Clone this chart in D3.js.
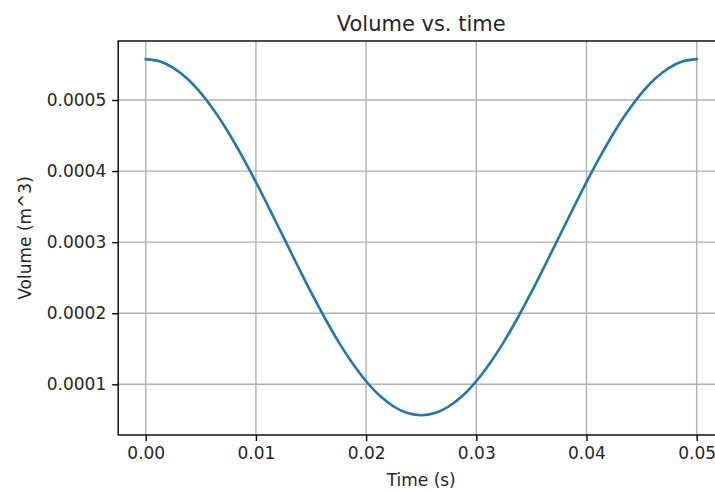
<!DOCTYPE html>
<html>
<head>
<meta charset="utf-8">
<script src="https://cdn.jsdelivr.net/npm/d3@7"></script>
<style>
  html, body { margin: 0; padding: 0; background: #fff; }
  svg { display: block; font-family: "DejaVu Sans", sans-serif; }
</style>
</head>
<body>
<svg id="chart" width="715" height="491"></svg>
<script>
// ---- data ----
const times = [
  0.0000, 0.00125, 0.0025, 0.00375, 0.0050, 0.00625, 0.0075, 0.00875, 0.0100, 0.01125,
  0.0125, 0.01375, 0.0150, 0.01625, 0.0175, 0.01875, 0.0200, 0.02125, 0.0225, 0.02375,
  0.0250, 0.02625, 0.0275, 0.02875, 0.0300, 0.03125, 0.0325, 0.03375, 0.0350, 0.03625,
  0.0375, 0.03875, 0.0400, 0.04125, 0.0425, 0.04375, 0.0450, 0.04625, 0.0475, 0.04875,
  0.0500
];
const volumes = [
  0.0005575, 0.0005545, 0.0005452, 0.0005302, 0.0005097, 0.0004841, 0.0004543, 0.0004207, 0.0003844, 0.0003461,
  0.0003070, 0.0002679, 0.0002296, 0.0001933, 0.0001597, 0.0001299, 0.0001043, 0.0000838, 0.0000688, 0.0000595,
  0.0000565, 0.0000595, 0.0000688, 0.0000838, 0.0001043, 0.0001299, 0.0001597, 0.0001933, 0.0002296, 0.0002679,
  0.0003070, 0.0003461, 0.0003844, 0.0004207, 0.0004543, 0.0004841, 0.0005097, 0.0005302, 0.0005452, 0.0005545,
  0.0005575
];
const xTicks = [0.00, 0.01, 0.02, 0.03, 0.04, 0.05];
const yTicks = [0.0001, 0.0002, 0.0003, 0.0004, 0.0005];
const xLimits = [-0.0025, 0.0525];
const yLimits = [0.0000287, 0.000583];
const titleText = "Volume vs. time";
const xLabel = "Time (s)";
const yLabel = "Volume (m^3)";

// ---- layout ----
const plot = { left: 118.2, right: 724.2, top: 41, bottom: 435 };
const svg = d3.select("#chart");

const x = d3.scaleLinear().domain(xLimits).range([plot.left, plot.right]);
const y = d3.scaleLinear().domain(yLimits).range([plot.bottom, plot.top]);

// grid
const grid = svg.append("g");
grid.selectAll("line.gx").data(xTicks).enter().append("line")
  .attr("x1", d => x(d)).attr("x2", d => x(d))
  .attr("y1", plot.top).attr("y2", plot.bottom)
  .attr("stroke", "#b0b0b0").attr("stroke-width", 1.4);
grid.selectAll("line.gy").data(yTicks).enter().append("line")
  .attr("x1", plot.left).attr("x2", plot.right)
  .attr("y1", d => y(d)).attr("y2", d => y(d))
  .attr("stroke", "#b0b0b0").attr("stroke-width", 1.4);

// line
const data = times.map((t, i) => ({ t, v: volumes[i] }));
const line = d3.line().x(d => x(d.t)).y(d => y(d.v)).curve(d3.curveCatmullRom);
svg.append("path").datum(data)
  .attr("d", line)
  .attr("fill", "none")
  .attr("stroke", "#1f77b4")
  .attr("stroke-width", 2.6)
  .attr("stroke-linecap", "square");

// axes
const xAxis = d3.axisBottom(x).tickValues(xTicks).tickFormat(d3.format(".2f"))
  .tickSize(6).tickPadding(6).tickSizeOuter(0);
const yAxis = d3.axisLeft(y).tickValues(yTicks).tickFormat(d3.format(".4f"))
  .tickSize(6).tickPadding(6).tickSizeOuter(0);

const gx = svg.append("g").attr("transform", `translate(0,${plot.bottom})`).call(xAxis);
const gy = svg.append("g").attr("transform", `translate(${plot.left},0)`).call(yAxis);
[gx, gy].forEach(g => {
  g.select(".domain").remove();
  g.selectAll(".tick line").attr("stroke", "#000").attr("stroke-width", 1.4);
  g.selectAll(".tick text").attr("fill", "#262626")
    .style("font-family", "'DejaVu Sans', sans-serif").style("font-size", "17px");
});

// spines
const spines = svg.append("g").attr("fill", "none").attr("stroke", "#000").attr("stroke-width", 1.4);
spines.append("rect")
  .attr("x", plot.left).attr("y", plot.top)
  .attr("width", plot.right - plot.left).attr("height", plot.bottom - plot.top);

// labels
svg.append("text")
  .attr("x", (plot.left + plot.right) / 2).attr("y", 31)
  .attr("text-anchor", "middle").attr("fill", "#262626")
  .style("font-size", "21px")
  .text(titleText);
svg.append("text")
  .attr("x", (plot.left + plot.right) / 2).attr("y", 486)
  .attr("text-anchor", "middle").attr("fill", "#262626")
  .style("font-size", "17px")
  .text(xLabel);
svg.append("text")
  .attr("transform", `translate(31,${(plot.top + plot.bottom) / 2}) rotate(-90)`)
  .attr("text-anchor", "middle").attr("fill", "#262626")
  .style("font-size", "17px")
  .text(yLabel);
</script>
</body>
</html>
